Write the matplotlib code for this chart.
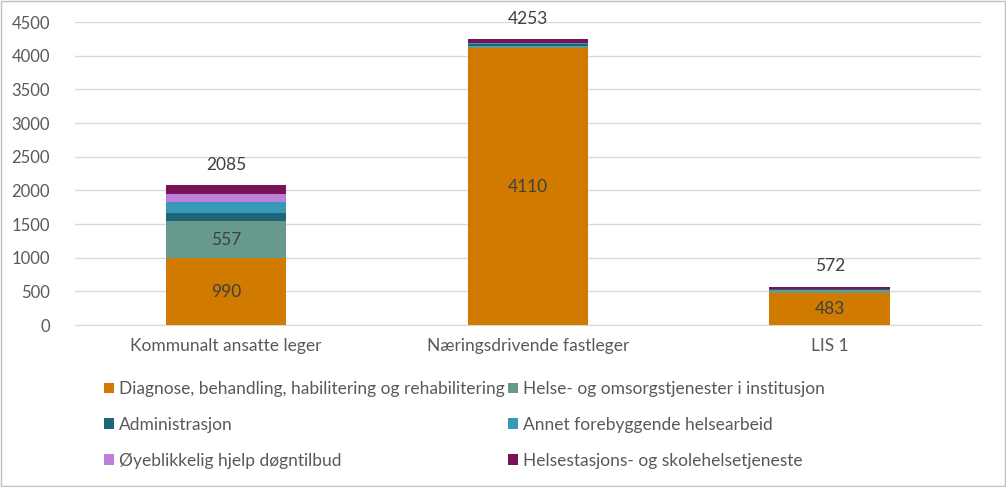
import matplotlib.pyplot as plt
import numpy as np

plt.rcParams['font.family'] = ['Lato', 'DejaVu Sans']

# Kategorier og verdier
kategorier = ["Kommunalt ansatte leger", "Næringsdrivende fastleger", "LIS 1"]
diagnose = [990, 4110, 483]
helse_inst = [557, 40, 35]
administrasjon = [118, 30, 15]
annet_forebyggende = [165, 13, 9]
oyeblikkelig = [120, 0, 0]
helsestasjon = [135, 60, 30]
totaler = [2085, 4253, 572]

serier = [
    ("Diagnose, behandling, habilitering og rehabilitering", diagnose, "#D07A00"),
    ("Helse- og omsorgstjenester i institusjon", helse_inst, "#679A8C"),
    ("Administrasjon", administrasjon, "#1F6477"),
    ("Annet forebyggende helsearbeid", annet_forebyggende, "#3799B5"),
    ("Øyeblikkelig hjelp døgntilbud", oyeblikkelig, "#BE7FDA"),
    ("Helsestasjons- og skolehelsetjeneste", helsestasjon, "#7A1257"),
]

tekstfarge = "#595959"

fig = plt.figure(figsize=(10.06, 4.87), dpi=100)
ax = fig.add_axes([0.0746, 0.3326, 0.9004, 0.6222])

x = np.arange(len(kategorier))
bunn = np.zeros(len(kategorier))
handles = []
for navn, verdier, farge in serier:
    b = ax.bar(x, verdier, 0.4, bottom=bunn, color=farge, label=navn, zorder=3)
    handles.append(b)
    bunn += np.array(verdier)

# Verdietiketter i segmentene
for i, v in enumerate(diagnose):
    ax.text(x[i], v / 2, str(v), ha='center', va='center', fontsize=12.5, color="#404040", zorder=4)
ax.text(x[0], diagnose[0] + helse_inst[0] / 2, str(helse_inst[0]), ha='center', va='center',
        fontsize=12.5, color="#404040", zorder=4)

# Totaler over søylene
for i, t in enumerate(totaler):
    ax.text(x[i], t + 180, str(t), ha='center', va='bottom', fontsize=12.5, color="#404040")

ax.set_xlim(-0.5, 2.5)
ax.set_ylim(0, 4500)
ax.set_yticks(range(0, 4501, 500))
ax.set_xticks(x)
ax.set_xticklabels(kategorier, fontsize=12.5)
ax.tick_params(axis='both', length=0, colors=tekstfarge)
ax.tick_params(axis='y', labelsize=12, pad=18)
ax.tick_params(axis='x', pad=9)
ax.grid(axis='y', color="#D9D9D9", linewidth=1, zorder=0)
for s in ["top", "right", "left"]:
    ax.spines[s].set_visible(False)
ax.spines["bottom"].set_color("#D9D9D9")

# Legende, radvis rekkefølge
rekkefolge = [0, 2, 4, 1, 3, 5]
fig.legend([handles[i] for i in rekkefolge], [serier[i][0] for i in rekkefolge],
           loc='upper left', bbox_to_anchor=(0.088, 0.25), ncol=2, frameon=False,
           fontsize=12.5, labelcolor=tekstfarge, handlelength=0.55, handleheight=0.55,
           handletextpad=0.3, columnspacing=0.2, labelspacing=1.15)

# Ramme rundt figuren
fig.patches.append(plt.Rectangle((0.001, 0.002), 0.998, 0.996, transform=fig.transFigure,
                                 fill=False, edgecolor="#BFBFBF", linewidth=1))

fig.savefig("out.png", dpi=100)
